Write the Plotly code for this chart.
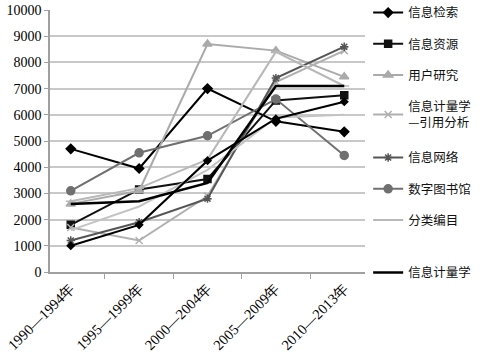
import plotly.graph_objects as go

categories = ["1990—1994年", "1995—1999年", "2000—2004年", "2005—2009年", "2010—2013年"]

xinxi_jiansuo = [4700, 3950, 7000, 5750, 5350]
xinxi_ziyuan = [1800, 3150, 3550, 6550, 6750]
yonghu_yanjiu = [2600, 3100, 8700, 8450, 7450]
yinyong_fenxi = [1700, 1200, 2900, 7250, 8450]
xinxi_wangluo = [1200, 1900, 2800, 7400, 8600]
shuzi_tushuguan = [3100, 4550, 5200, 6600, 4450]
fenlei_bianmu = [2700, 3200, 4300, 8400, 7100]
xinxi_jiliangxue = [2600, 2700, 3400, 7100, 7100]
extra_a = [1000, 1800, 4250, 5850, 6500]
extra_b = [1600, 2500, 3900, 5900, 6000]

y_ticks = [0, 1000, 2000, 3000, 4000, 5000, 6000, 7000, 8000, 9000, 10000]
y_tick_text = ["0", "1000", "2000", "3000", "4000", "5000", "6000", "7000", "8000", "9000", "10000"]

series = [
    ("信息检索", xinxi_jiansuo, "#000000", "diamond", 7, "legend"),
    ("信息资源", xinxi_ziyuan, "#111111", "square", 7, "legend"),
    ("用户研究", yonghu_yanjiu, "#aaaaaa", "triangle-up", 8, "legend"),
    ("信息计量学<br>—引用分析", yinyong_fenxi, "#b0b0b0", "x-thin-open", 7, "legend"),
    ("信息网络", xinxi_wangluo, "#555555", "asterisk-open", 7, "legend3"),
    ("数字图书馆", shuzi_tushuguan, "#707070", "circle", 8, "legend3"),
    ("分类编目", fenlei_bianmu, "#b8b8b8", "line-ew-open", 7, "legend3"),
]

fig = go.Figure()
for name, vals, color, sym, size, lg in series:
    fig.add_trace(go.Scatter(
        x=categories, y=vals, name=name, mode="lines+markers",
        line=dict(color=color, width=2),
        marker=dict(symbol=sym, size=size, color=color, line=dict(color=color, width=1.5)),
        legend=lg, legendgroup=name,
    ))

fig.add_trace(go.Scatter(
    x=categories, y=extra_b, mode="lines", showlegend=False,
    line=dict(color="#c4c4c4", width=2),
))
fig.add_trace(go.Scatter(
    x=categories, y=extra_a, mode="lines+markers", showlegend=False,
    line=dict(color="#000000", width=2),
    marker=dict(symbol="diamond", size=7, color="#000000"),
))
fig.add_trace(go.Scatter(
    x=categories, y=xinxi_jiliangxue, name="信息计量学", mode="lines",
    line=dict(color="#000000", width=2.5),
    legend="legend2",
))

legend_font = dict(family="Noto Sans CJK SC", size=12.5, color="#111")
fig.update_layout(
    width=481, height=353,
    margin=dict(l=50, r=116, t=10, b=81, autoexpand=False),
    paper_bgcolor="white", plot_bgcolor="white",
    font=dict(family="Liberation Serif, serif", size=13, color="#000"),
    legend=dict(
        x=1.01, xanchor="left", y=1.046, yanchor="top",
        font=legend_font, tracegroupgap=12, itemwidth=30, bgcolor="rgba(0,0,0,0)",
    ),
    legend3=dict(
        x=1.01, xanchor="left", y=0.317, yanchor="middle",
        font=legend_font, tracegroupgap=12, itemwidth=30, bgcolor="rgba(0,0,0,0)",
    ),
    legend2=dict(
        x=1.01, xanchor="left", y=-0.003, yanchor="middle",
        font=legend_font, itemwidth=30, bgcolor="rgba(0,0,0,0)",
    ),
    xaxis=dict(
        type="category", tickangle=-45, showgrid=False,
        showline=True, linecolor="#a0a0a0", linewidth=1.5,
        ticks="outside", tickson="boundaries", ticklen=5, tickcolor="#a0a0a0",
        tickfont=dict(family="Liberation Serif", size=14.5),
    ),
    yaxis=dict(
        range=[0, 10000], tickvals=y_ticks, ticktext=y_tick_text, showgrid=True,
        gridcolor="#c8c8c8", gridwidth=1.5,
        showline=True, linecolor="#a0a0a0", linewidth=1.5,
        ticks="outside", ticklen=4, tickcolor="#a0a0a0",
        zeroline=False,
        tickfont=dict(family="Liberation Serif", size=14),
    ),
)

fig.write_html("out.html")
